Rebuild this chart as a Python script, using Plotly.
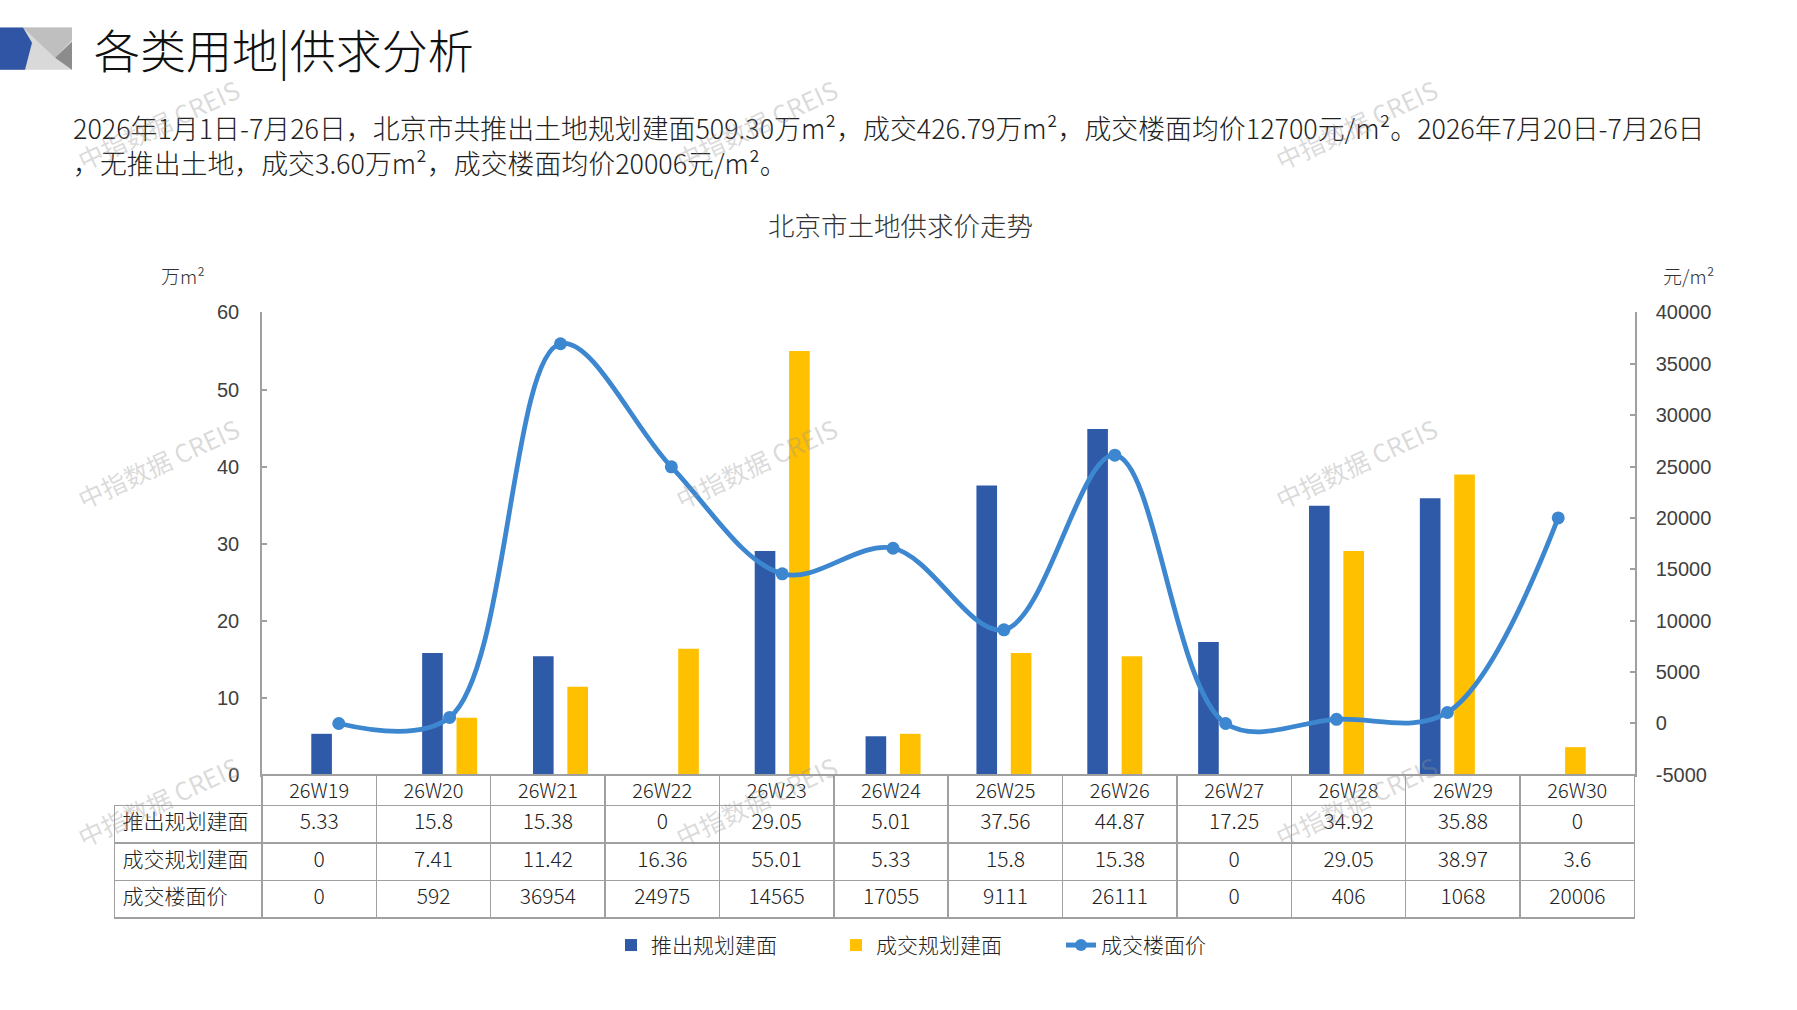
import plotly.graph_objects as go

# ---------------- data ----------------
categories = ["26W19", "26W20", "26W21", "26W22", "26W23", "26W24",
              "26W25", "26W26", "26W27", "26W28", "26W29", "26W30"]
supply_area = [5.33, 15.8, 15.38, 0, 29.05, 5.01, 37.56, 44.87, 17.25, 34.92, 35.88, 0]
deal_area = [0, 7.41, 11.42, 16.36, 55.01, 5.33, 15.8, 15.38, 0, 29.05, 38.97, 3.6]
deal_price = [0, 592, 36954, 24975, 14565, 17055, 9111, 26111, 0, 406, 1068, 20006]
series_names = ["推出规划建面", "成交规划建面", "成交楼面价"]
left_ticks = [0, 10, 20, 30, 40, 50, 60]
right_ticks = [-5000, 0, 5000, 10000, 15000, 20000, 25000, 30000, 35000, 40000]

page_title = "各类用地|供求分析"
chart_title = "北京市土地供求价走势"
para_line1 = ("2026年1月1日-7月26日，北京市共推出土地规划建面509.30万m²，成交426.79万m²，"
              "成交楼面均价12700元/m²。2026年7月20日-7月26日")
para_line2 = "，无推出土地，成交3.60万m²，成交楼面均价20006元/m²。"
watermark = "中指数据 CREIS"

# ---------------- layout helpers ----------------
W, H = 1797, 1010
YS, YO = 1.0254, -11.75  # vertical calibration of the captured page

def px(x):
    return x / W
def fy(y):
    return YS * y + YO
def py(y):
    return 1 - fy(y) / H

BLUE = "#2F5AA8"
YELLOW = "#FFC000"
LINE = "#3C87D0"
GRID = "#A0A0A0"
CJK = "Noto Sans CJK SC"
LAT = "Liberation Sans"
LIGHT = 300

PLOT_L, PLOT_R, PLOT_T, PLOT_B = 262, 1635, 312, 773
TABLE_L, TABLE_B = 114.5, 930

fig = go.Figure()

fig.add_trace(go.Bar(
    x=categories, y=supply_area, name=series_names[0],
    marker=dict(color=BLUE, line=dict(width=0)), yaxis="y",
))
fig.add_trace(go.Bar(
    x=categories, y=deal_area, name=series_names[1],
    marker=dict(color=YELLOW, line=dict(width=0)), yaxis="y",
))
fig.add_trace(go.Scatter(
    x=categories, y=deal_price, name=series_names[2], yaxis="y2",
    mode="lines+markers",
    line=dict(color=LINE, width=4.8, shape="spline", smoothing=1.0),
    marker=dict(color=LINE, size=13),
))

def fmt(v):
    return f"{v:g}"

table_columns = [series_names] + [
    [fmt(s), fmt(d), fmt(p)] for s, d, p in zip(supply_area, deal_area, deal_price)
]
first_w = PLOT_L - TABLE_L
col_w = (PLOT_R - PLOT_L) / len(categories)
n = len(categories)

fig.add_trace(go.Table(
    domain=dict(x=[px(TABLE_L), px(PLOT_R)], y=[py(TABLE_B), py(PLOT_B)]),
    columnwidth=[first_w] + [col_w] * n,
    header=dict(
        values=[""] + categories,
        height=30.5,
        align="center",
        fill=dict(color=["rgba(0,0,0,0)"] + ["white"] * n),
        line=dict(color=["rgba(0,0,0,0)"] + [GRID] * n, width=1.5),
        font=dict(family=CJK, size=20, color="#222222", weight=LIGHT),
    ),
    cells=dict(
        values=table_columns,
        height=37.5,
        align=["left"] + ["center"] * n,
        fill=dict(color="white"),
        line=dict(color=GRID, width=1.5),
        font=dict(family=CJK, size=21, color="#222222", weight=LIGHT),
    ),
))

annotations = [
    dict(text=page_title, x=px(92), y=py(48), xanchor="left", yanchor="middle",
         font=dict(family=CJK, size=46, color="#111111", weight=LIGHT)),
    dict(text=para_line1 + "<br>" + para_line2, x=px(71), y=py(145),
         xanchor="left", yanchor="middle", align="left",
         font=dict(family=CJK, size=26.9, color="#222222", weight=LIGHT)),
    dict(text=chart_title, x=px(900), y=py(224), xanchor="center", yanchor="middle",
         font=dict(family=CJK, size=26.5, color="#333333", weight=LIGHT)),
    dict(text="万m²", x=px(183), y=py(275), xanchor="center", yanchor="middle",
         font=dict(family=CJK, size=19, color="#333333", weight=LIGHT)),
    dict(text="元/m²", x=px(1688), y=py(275), xanchor="center", yanchor="middle",
         font=dict(family=CJK, size=19, color="#333333", weight=LIGHT)),
]
for wx in (158, 756, 1356):
    for wy in (124, 462, 799):
        annotations.append(dict(
            text=watermark, x=px(wx), y=py(wy), xanchor="center", yanchor="middle",
            textangle=-25, font=dict(family=CJK, size=25, color="rgba(150,150,150,0.35)"),
        ))
for a in annotations:
    a.update(xref="paper", yref="paper", showarrow=False)

shapes = [
    dict(type="rect", x0=px(0), x1=px(72), y0=py(70), y1=py(28),
         fillcolor="#D9D9D9", line=dict(width=0)),
    dict(type="path", path=f"M {px(23)} {py(28)} L {px(72)} {py(28)} L {px(72)} {py(40)} L {px(55)} {py(58)} Z",
         fillcolor="#BFBFBF", line=dict(width=0)),
    dict(type="path", path=f"M {px(72)} {py(42)} L {px(72)} {py(70)} L {px(55)} {py(58)} Z",
         fillcolor="#8C8C8C", line=dict(width=0)),
    dict(type="path", path=f"M {px(0)} {py(28)} L {px(23)} {py(28)} L {px(32)} {py(43)} L {px(25)} {py(70)} L {px(0)} {py(70)} Z",
         fillcolor="#2F55A4", line=dict(width=0)),
]
for s in shapes:
    s.update(xref="paper", yref="paper", layer="above")

fig.update_layout(
    width=W, height=H,
    margin=dict(l=0, r=0, t=0, b=0),
    paper_bgcolor="white", plot_bgcolor="white",
    barmode="group", bargap=0.38, bargroupgap=0.4,
    font=dict(family=CJK, color="#333333"),
    xaxis=dict(
        domain=[px(PLOT_L), px(PLOT_R)],
        type="category", categoryorder="array", categoryarray=categories,
        showticklabels=False, ticks="", showgrid=False, zeroline=False,
        showline=True, linecolor=GRID, linewidth=1.5,
    ),
    yaxis=dict(
        domain=[py(PLOT_B), py(PLOT_T)],
        range=[0, 60], tickvals=left_ticks,
        showgrid=False, zeroline=False,
        showline=True, linecolor=GRID, linewidth=1.5,
        ticks="inside", ticklen=5, tickcolor=GRID, tickwidth=1.5,
        ticklabelstandoff=17,
        tickfont=dict(family=LAT, size=20, color="#404040"),
    ),
    yaxis2=dict(
        overlaying="y", side="right", anchor="x",
        range=[-5000, 40000], tickvals=right_ticks,
        ticktext=[str(v) for v in right_ticks],
        showgrid=False, zeroline=False,
        showline=True, linecolor=GRID, linewidth=1.5,
        ticks="inside", ticklen=5, tickcolor=GRID, tickwidth=1.5,
        ticklabelstandoff=15,
        tickfont=dict(family=LAT, size=20, color="#404040"),
    ),
    legend=dict(
        orientation="h", x=px(611), y=py(943), xanchor="left", yanchor="middle",
        font=dict(family=CJK, size=21, color="#222222", weight=LIGHT),
        entrywidth=180, itemsizing="constant", bgcolor="rgba(0,0,0,0)",
    ),
    annotations=annotations,
    shapes=shapes,
)

fig.write_html(
    "out.html",
    config={"displayModeBar": False},
    post_script="document.body.style.margin='0';document.body.style.overflow='hidden';",
)
